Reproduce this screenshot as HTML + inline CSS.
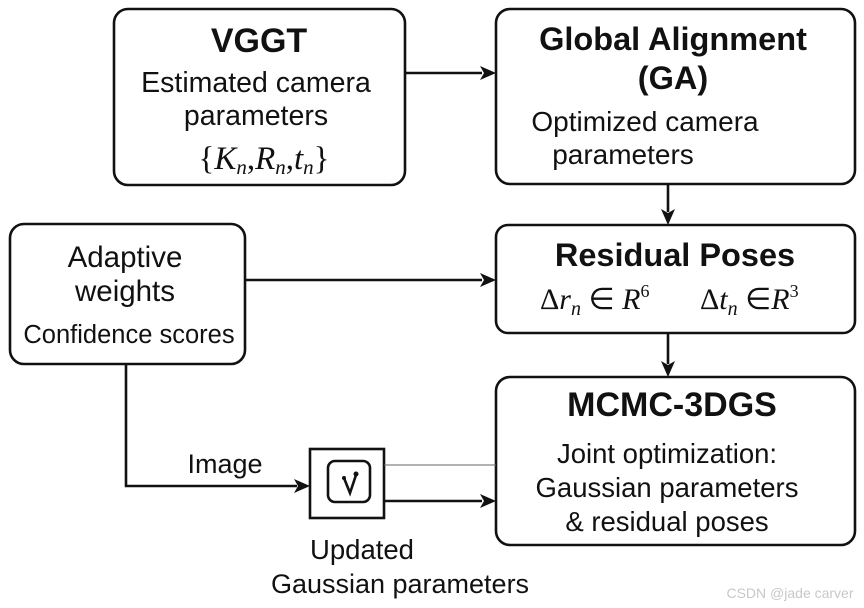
<!DOCTYPE html>
<html><head><meta charset="utf-8"><style>
html,body{margin:0;padding:0;background:#fff;}
svg{display:block;}
.s{font-family:"Liberation Sans",sans-serif;fill:#111;}
.b{font-family:"Liberation Sans",sans-serif;font-weight:bold;fill:#111;}
.m{font-family:"Liberation Serif",serif;fill:#111;}
</style></head><body>
<svg width="864" height="608" viewBox="0 0 864 608" xmlns="http://www.w3.org/2000/svg">
<g fill="none" stroke="#111" stroke-width="2.6">
<rect x="114" y="9" width="291" height="176" rx="14"/>
<rect x="496" y="9" width="359" height="175" rx="14"/>
<rect x="496" y="225" width="359" height="108" rx="12"/>
<rect x="496" y="377" width="359" height="168" rx="14"/>
<rect x="10" y="224" width="235" height="140" rx="14"/>
<rect x="310" y="449" width="74" height="69"/>
<rect x="328" y="461" width="42" height="41" rx="7"/>
</g>
<g stroke="#111" stroke-width="2.6" fill="none">
<line x1="405" y1="73" x2="482" y2="73"/>
<line x1="668" y1="184" x2="668" y2="212"/>
<line x1="245" y1="280" x2="482" y2="280"/>
<line x1="668" y1="333" x2="668" y2="364"/>
<polyline points="126,364 126,486 297,486"/>
<line x1="384" y1="501" x2="482" y2="501"/>
<line x1="384" y1="465" x2="496" y2="465" stroke-width="1" stroke="#666"/>
</g>
<g fill="#111">
<path d="M496,73 L480,66 L484,73 L480,80 Z"/>
<path d="M668,225 L661,209 L668,213 L675,209 Z"/>
<path d="M496,280 L480,273 L484,280 L480,287 Z"/>
<path d="M668,377 L661,361 L668,365 L675,361 Z"/>
<path d="M310,486 L294,479 L298,486 L294,493 Z"/>
<path d="M496,501 L480,494 L484,501 L480,508 Z"/>
</g>
<g stroke="#111" stroke-width="2.6" fill="none" stroke-linecap="round"><polyline points="344,478 350,493 356,475"/></g>
<circle cx="356" cy="474" r="2.5" fill="#111"/><circle cx="344" cy="478" r="2" fill="#111"/>
<text class="b" x="259" y="52" font-size="34" text-anchor="middle">VGGT</text>
<text class="s" x="256" y="92" font-size="28.5" text-anchor="middle">Estimated camera</text>
<text class="s" x="256" y="125" font-size="28.5" text-anchor="middle">parameters</text>
<text class="m" x="264" y="169" font-size="33" text-anchor="middle">{<tspan font-style="italic">K</tspan><tspan font-style="italic" font-size="21" dy="5">n</tspan><tspan dy="-5">,</tspan><tspan font-style="italic">R</tspan><tspan font-style="italic" font-size="21" dy="5">n</tspan><tspan dy="-5">,</tspan><tspan font-style="italic">t</tspan><tspan font-style="italic" font-size="21" dy="5">n</tspan><tspan dy="-5">}</tspan></text>
<text class="b" x="673" y="50" font-size="32.5" text-anchor="middle">Global Alignment</text>
<text class="b" x="673" y="89" font-size="32.5" text-anchor="middle">(GA)</text>
<text class="s" x="645" y="131" font-size="28" text-anchor="middle">Optimized camera</text>
<text class="s" x="623" y="164" font-size="28" text-anchor="middle">parameters</text>
<text class="b" x="675" y="266" font-size="32.5" text-anchor="middle">Residual Poses</text>
<text class="m" x="540" y="309" font-size="30">Δ<tspan font-style="italic">r</tspan><tspan font-style="italic" font-size="20" dy="6">n</tspan><tspan dy="-6"> ∈ </tspan><tspan font-style="italic">R</tspan><tspan font-size="18" dy="-12">6</tspan></text>
<text class="m" x="700" y="309" font-size="30">Δ<tspan font-style="italic">t</tspan><tspan font-style="italic" font-size="20" dy="6">n</tspan><tspan dy="-6"> ∈</tspan><tspan font-style="italic">R</tspan><tspan font-size="18" dy="-12">3</tspan></text>
<text class="b" x="672" y="416" font-size="34" text-anchor="middle">MCMC-3DGS</text>
<text class="s" x="667" y="463" font-size="27.5" text-anchor="middle">Joint optimization:</text>
<text class="s" x="667" y="497" font-size="27.5" text-anchor="middle">Gaussian parameters</text>
<text class="s" x="667" y="531" font-size="27.5" text-anchor="middle">&amp; residual poses</text>
<text class="s" x="125" y="267" font-size="29.5" text-anchor="middle">Adaptive</text>
<text class="s" x="125" y="301" font-size="29.5" text-anchor="middle">weights</text>
<text class="s" x="129" y="343" font-size="25.5" text-anchor="middle">Confidence scores</text>
<text class="s" x="225" y="473" font-size="27" text-anchor="middle">Image</text>
<text class="s" x="362" y="559" font-size="27.5" text-anchor="middle">Updated</text>
<text class="s" x="400" y="593" font-size="27" text-anchor="middle">Gaussian parameters</text>
<text class="s" x="790" y="598" font-size="14" text-anchor="middle" style="fill:#c8c8c8">CSDN @jade carver</text>
</svg>
</body></html>
